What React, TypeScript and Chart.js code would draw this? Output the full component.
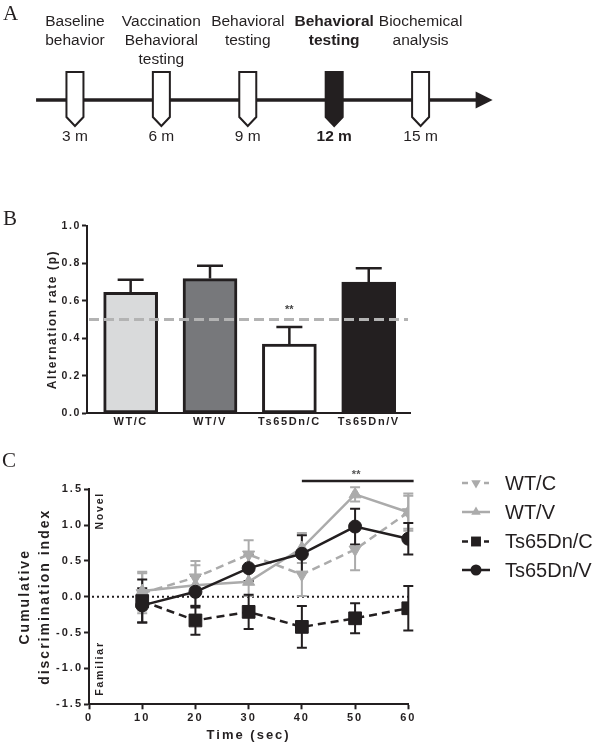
import React, { useEffect, useRef } from 'react';
import { Chart, registerables } from 'chart.js';

Chart.register(...registerables);

const FONT = '"Liberation Sans", Arial, Helvetica, sans-serif';
const SERIF = '"Liberation Serif", "Times New Roman", serif';
const INK = '#231f20';
const GRAY = '#ababab';

// ---------- Panel A: timeline ----------
const TIMELINE_MONTHS = [3, 6, 9, 12, 15];
const TIMELINE_MONTH_LABELS = ['3 m', '6 m', '9 m', '12 m', '15 m'];
const TIMELINE_EVENTS = [
  ['Baseline', 'behavior'],
  ['Vaccination', 'Behavioral', 'testing'],
  ['Behavioral', 'testing'],
  ['Behavioral', 'testing'],
  ['Biochemical', 'analysis'],
];
const TIMELINE_HIGHLIGHT = [false, false, false, true, false];
const TIMELINE_RANGE = [1.65, 17.5];

// ---------- Panel B: alternation rate ----------
const GROUPS = ['WT/C', 'WT/V', 'Ts65Dn/C', 'Ts65Dn/V'];
const ALTERNATION = [0.645, 0.718, 0.369, 0.7];
const ALTERNATION_SEM = [0.067, 0.069, 0.091, 0.073];
const BAR_COLORS = ['#d9dadb', '#77787b', '#ffffff', '#231f20'];
const ALT_TICKS = [0, 0.2, 0.4, 0.6, 0.8, 1.0];
const CHANCE_LEVEL = 0.5;
const ALT_SIGNIF_GROUP = 2;

// ---------- Panel C: cumulative discrimination index ----------
const TIME_SEC = [10, 20, 30, 40, 50, 60];
const TIME_TICKS = [0, 10, 20, 30, 40, 50, 60];
const DI_TICKS = [-1.5, -1.0, -0.5, 0, 0.5, 1.0, 1.5];
const DI_WT_C = [0.05, 0.27, 0.59, 0.31, 0.66, 1.18];
const SEM_WT_C = [0.28, 0.23, 0.2, 0.3, 0.29, 0.26];
const DI_WT_V = [0.08, 0.16, 0.21, 0.68, 1.43, 1.18];
const SEM_WT_V = [0.27, 0.28, 0.2, 0.21, 0.1, 0.23];
const DI_TS_C = [-0.06, -0.33, -0.21, -0.42, -0.3, -0.16];
const SEM_TS_C = [0.3, 0.2, 0.24, 0.29, 0.21, 0.31];
const DI_TS_V = [-0.12, 0.07, 0.4, 0.6, 0.98, 0.81];
const SEM_TS_V = [0.24, 0.22, 0.18, 0.26, 0.25, 0.22];
const SIG_RANGE = [40, 61];
const REGION_LABELS = ['Novel', 'Familiar'];
const REGION_VALUES = [1.2, -1.0];

const SERIES = [
  { label: 'WT/C', values: DI_WT_C, sem: SEM_WT_C, color: GRAY, dash: [8, 5], point: 'triangle', rotation: 180, radius: 7, order: 4 },
  { label: 'WT/V', values: DI_WT_V, sem: SEM_WT_V, color: GRAY, dash: [], point: 'triangle', rotation: 0, radius: 7, order: 3 },
  { label: 'Ts65Dn/C', values: DI_TS_C, sem: SEM_TS_C, color: INK, dash: [8, 5], point: 'rect', rotation: 0, radius: 9, order: 2 },
  { label: 'Ts65Dn/V', values: DI_TS_V, sem: SEM_TS_V, color: INK, dash: [], point: 'circle', rotation: 0, radius: 6.5, order: 1 },
];

function spacing(px: number) {
  return {
    id: 'letterSpacing',
    beforeDraw(chart: any) {
      chart.ctx.letterSpacing = px + 'px';
    },
    afterDraw(chart: any) {
      chart.ctx.letterSpacing = '0px';
    },
  };
}

function panelLetter(letter: string, x: number, baseline: number) {
  return {
    id: 'panelLetter',
    afterDraw(chart: any) {
      const ctx = chart.ctx;
      ctx.save();
      ctx.letterSpacing = '0px';
      ctx.font = `21px ${SERIF}`;
      ctx.fillStyle = INK;
      ctx.textAlign = 'left';
      ctx.textBaseline = 'alphabetic';
      ctx.fillText(letter, x, baseline);
      ctx.restore();
    },
  };
}

function makeTimeline(canvas: HTMLCanvasElement) {
  const timelinePlugin = {
    id: 'timeline',
    afterDatasetsDraw(chart: any) {
      const { ctx } = chart;
      const xs = chart.scales.x;
      const ys = chart.scales.y;
      const y0 = ys.getPixelForValue(0);
      const top = ys.getPixelForValue(1);
      ctx.save();
      ctx.strokeStyle = INK;
      ctx.fillStyle = INK;
      const xStart = xs.getPixelForValue(TIMELINE_RANGE[0]);
      const xEnd = xs.getPixelForValue(TIMELINE_RANGE[1]);
      ctx.lineWidth = 3.5;
      ctx.beginPath();
      ctx.moveTo(xStart, y0);
      ctx.lineTo(xEnd - 12, y0);
      ctx.stroke();
      ctx.beginPath();
      ctx.moveTo(xEnd, y0);
      ctx.lineTo(xEnd - 17, y0 - 8.5);
      ctx.lineTo(xEnd - 17, y0 + 8.5);
      ctx.closePath();
      ctx.fill();

      const meta = chart.getDatasetMeta(0);
      meta.data.forEach((pt: any, i: number) => {
        const x = pt.x;
        const hw = 8.5;
        const shoulder = y0 + 17;
        const tip = y0 + 26;
        ctx.beginPath();
        ctx.moveTo(x - hw, top);
        ctx.lineTo(x + hw, top);
        ctx.lineTo(x + hw, shoulder);
        ctx.lineTo(x, tip);
        ctx.lineTo(x - hw, shoulder);
        ctx.closePath();
        ctx.fillStyle = TIMELINE_HIGHLIGHT[i] ? INK : '#ffffff';
        ctx.fill();
        ctx.lineWidth = 2;
        ctx.strokeStyle = INK;
        ctx.stroke();

        const weight = TIMELINE_HIGHLIGHT[i] ? 'bold ' : '';
        ctx.font = `${weight}15.5px ${FONT}`;
        ctx.fillStyle = INK;
        ctx.textAlign = 'center';
        ctx.textBaseline = 'middle';
        TIMELINE_EVENTS[i].forEach((line, k) => {
          ctx.fillText(line, x, 22 + k * 19);
        });
        ctx.fillText(TIMELINE_MONTH_LABELS[i], x, 137);
      });
      ctx.restore();
    },
  };

  return new Chart(canvas, {
    type: 'scatter',
    data: {
      datasets: [
        {
          data: TIMELINE_MONTHS.map((m) => ({ x: m, y: 0 })),
          pointRadius: 0,
        },
      ],
    },
    options: {
      animation: false,
      responsive: false,
      events: [],
      layout: { padding: { left: 31.75, right: 93, top: 72, bottom: 42 } },
      plugins: { legend: { display: false }, tooltip: { enabled: false } },
      scales: {
        x: { type: 'linear', display: false, min: 1.5, max: 18 },
        y: { type: 'linear', display: false, min: -1, max: 1 },
      },
    } as any,
    plugins: [timelinePlugin, panelLetter('A', 3, 19.5)],
  });
}

function makeBars(canvas: HTMLCanvasElement) {
  const extras = {
    id: 'barExtras',
    afterDatasetsDraw(chart: any) {
      const { ctx, chartArea } = chart;
      const ys = chart.scales.y;
      const meta = chart.getDatasetMeta(0);
      ctx.save();
      ctx.letterSpacing = '0px';
      ctx.strokeStyle = INK;
      ctx.lineWidth = 2.5;
      meta.data.forEach((bar: any, i: number) => {
        const t = ys.getPixelForValue(ALTERNATION[i]);
        const e = ys.getPixelForValue(ALTERNATION[i] + ALTERNATION_SEM[i]);
        ctx.beginPath();
        ctx.moveTo(bar.x, t);
        ctx.lineTo(bar.x, e);
        ctx.moveTo(bar.x - 13, e);
        ctx.lineTo(bar.x + 13, e);
        ctx.stroke();
      });
      const yc = ys.getPixelForValue(CHANCE_LEVEL);
      ctx.strokeStyle = '#b3b3b3';
      ctx.lineWidth = 3;
      ctx.setLineDash([10, 5]);
      ctx.beginPath();
      ctx.moveTo(chartArea.left + 2, yc);
      ctx.lineTo(chartArea.right - 2, yc);
      ctx.stroke();
      ctx.setLineDash([]);
      const sb = meta.data[ALT_SIGNIF_GROUP];
      const se = ys.getPixelForValue(ALTERNATION[ALT_SIGNIF_GROUP] + ALTERNATION_SEM[ALT_SIGNIF_GROUP]);
      ctx.fillStyle = '#444444';
      ctx.font = `bold 11px ${FONT}`;
      ctx.textAlign = 'center';
      ctx.textBaseline = 'middle';
      ctx.fillText('**', sb.x, se - 17);
      ctx.restore();
    },
  };

  const tickFont = { family: FONT, size: 10.5, weight: 'bold' };
  return new Chart(canvas, {
    type: 'bar',
    data: {
      datasets: [
        {
          data: GROUPS.map((g, i) => ({ x: i + 1, y: ALTERNATION[i] })),
          backgroundColor: BAR_COLORS,
          borderColor: INK,
          borderWidth: 3,
          borderSkipped: false,
          barThickness: 54,
        },
      ],
    },
    options: {
      animation: false,
      responsive: false,
      events: [],
      layout: { padding: { left: 0, right: 190, top: 25.7, bottom: 6.7 } },
      plugins: { legend: { display: false }, tooltip: { enabled: false } },
      scales: {
        x: {
          type: 'linear',
          min: 0.45,
          max: 4.52,
          offset: false,
          afterBuildTicks: (s: any) => {
            s.ticks = GROUPS.map((_, i) => ({ value: i + 1 }));
          },
          afterFit: (s: any) => {
            s.height = 20;
          },
          grid: { drawOnChartArea: false, drawTicks: false, offset: false },
          border: { color: INK, width: 2 },
          ticks: {
            callback: (v: any) => GROUPS[Math.round(v) - 1],
            font: { ...tickFont, size: 11 },
            color: INK,
            padding: 2,
            maxRotation: 0,
            autoSkip: false,
          },
        },
        y: {
          type: 'linear',
          min: 0,
          max: 1,
          afterBuildTicks: (s: any) => {
            s.ticks = ALT_TICKS.map((v) => ({ value: v }));
          },
          afterFit: (s: any) => {
            s.width = 87;
          },
          grid: { drawOnChartArea: false, tickLength: 5, tickWidth: 2, tickColor: INK, color: INK },
          border: { color: INK, width: 2 },
          ticks: {
            callback: (v: any) => Number(v).toFixed(1),
            font: tickFont,
            color: INK,
            padding: 1,
          },
          title: {
            display: true,
            text: 'Alternation rate (p)',
            font: { family: FONT, size: 12, weight: 'bold' },
            color: INK,
            padding: { top: 45.8, bottom: 0 },
          },
        },
      },
    } as any,
    plugins: [spacing(1.6), extras, panelLetter('B', 3, 25)],
  });
}

function drawMarker(ctx: any, style: string, x: number, y: number, r: number, rotation: number) {
  ctx.beginPath();
  if (style === 'circle') {
    ctx.arc(x, y, r, 0, Math.PI * 2);
  } else if (style === 'rect') {
    const s = r * Math.SQRT1_2;
    ctx.rect(x - s, y - s, 2 * s, 2 * s);
  } else {
    const d = rotation === 180 ? -1 : 1;
    ctx.moveTo(x, y - d * r);
    ctx.lineTo(x + r * 0.866, y + d * r * 0.5);
    ctx.lineTo(x - r * 0.866, y + d * r * 0.5);
    ctx.closePath();
  }
  ctx.fill();
}

function makeLines(canvas: HTMLCanvasElement) {
  const under = {
    id: 'lineUnder',
    beforeDatasetsDraw(chart: any) {
      const { ctx, chartArea } = chart;
      const xs = chart.scales.x;
      const ys = chart.scales.y;
      ctx.save();
      ctx.letterSpacing = '0px';
      const y0 = ys.getPixelForValue(0);
      ctx.strokeStyle = INK;
      ctx.lineWidth = 2;
      ctx.setLineDash([2, 3]);
      ctx.beginPath();
      ctx.moveTo(chartArea.left + 3, y0);
      ctx.lineTo(chartArea.right, y0);
      ctx.stroke();
      ctx.setLineDash([]);
      [...SERIES]
        .sort((a, b) => b.order - a.order)
        .forEach((s) => {
          ctx.strokeStyle = s.color;
          ctx.lineWidth = 2;
          TIME_SEC.forEach((t, i) => {
            const px = xs.getPixelForValue(t);
            const hi = ys.getPixelForValue(s.values[i] + s.sem[i]);
            const lo = ys.getPixelForValue(s.values[i] - s.sem[i]);
            ctx.beginPath();
            ctx.moveTo(px, hi);
            ctx.lineTo(px, lo);
            ctx.moveTo(px - 5, hi);
            ctx.lineTo(px + 5, hi);
            ctx.moveTo(px - 5, lo);
            ctx.lineTo(px + 5, lo);
            ctx.stroke();
          });
        });
      ctx.restore();
    },
  };

  const over = {
    id: 'lineOver',
    afterDraw(chart: any) {
      const { ctx } = chart;
      const xs = chart.scales.x;
      const ys = chart.scales.y;
      ctx.save();
      // significance bar
      ctx.letterSpacing = '0px';
      ctx.strokeStyle = INK;
      ctx.lineWidth = 2.5;
      ctx.beginPath();
      ctx.moveTo(xs.getPixelForValue(SIG_RANGE[0]), 41);
      ctx.lineTo(xs.getPixelForValue(SIG_RANGE[1]), 41);
      ctx.stroke();
      ctx.fillStyle = '#555555';
      ctx.font = `bold 11px ${FONT}`;
      ctx.textAlign = 'center';
      ctx.textBaseline = 'middle';
      ctx.fillText('**', xs.getPixelForValue((SIG_RANGE[0] + SIG_RANGE[1]) / 2 - 0.3), 35);

      // Novel / Familiar
      ctx.fillStyle = INK;
      ctx.font = `bold 10.5px ${FONT}`;
      ctx.letterSpacing = '1.8px';
      REGION_LABELS.forEach((txt, i) => {
        ctx.save();
        ctx.translate(xs.left + 11, ys.getPixelForValue(REGION_VALUES[i]));
        ctx.rotate(-Math.PI / 2);
        ctx.textAlign = 'center';
        ctx.textBaseline = 'middle';
        ctx.fillText(txt, 0, 0);
        ctx.restore();
      });

      // legend
      ctx.letterSpacing = '0px';
      const rows = [43, 72, 101.5, 130];
      SERIES.forEach((s, i) => {
        const y = rows[i];
        ctx.strokeStyle = s.color;
        ctx.fillStyle = s.color;
        ctx.lineWidth = 2.5;
        ctx.beginPath();
        if (s.dash.length) {
          ctx.moveTo(462, y);
          ctx.lineTo(468, y);
          ctx.moveTo(484, y);
          ctx.lineTo(489, y);
        } else {
          ctx.moveTo(462, y);
          ctx.lineTo(490, y);
        }
        ctx.stroke();
        drawMarker(ctx, s.point, 476, y, s.point === 'rect' ? 7 : 5.5, s.rotation);
        ctx.fillStyle = INK;
        ctx.font = `20px ${FONT}`;
        ctx.textAlign = 'left';
        ctx.textBaseline = 'middle';
        ctx.fillText(s.label, 505, y + 1);
      });
      ctx.restore();
    },
  };

  const tickFont = { family: FONT, size: 11, weight: 'bold' };
  return new Chart(canvas, {
    type: 'line',
    data: {
      datasets: SERIES.map((s) => ({
        label: s.label,
        data: TIME_SEC.map((t, i) => ({ x: t, y: s.values[i] })),
        borderColor: s.color,
        backgroundColor: s.color,
        borderWidth: 2.5,
        borderDash: s.dash,
        pointStyle: s.point,
        pointRotation: s.rotation,
        pointRadius: s.radius,
        pointBorderWidth: 1,
        pointBorderColor: s.color,
        pointBackgroundColor: s.color,
        order: s.order,
        tension: 0,
      })),
    },
    options: {
      animation: false,
      responsive: false,
      events: [],
      layout: { padding: { left: 0, right: 191.7, top: 49.3, bottom: 2.7 } },
      plugins: { legend: { display: false }, tooltip: { enabled: false } },
      scales: {
        x: {
          type: 'linear',
          min: 0,
          max: 60,
          afterBuildTicks: (s: any) => {
            s.ticks = TIME_TICKS.map((v) => ({ value: v }));
          },
          afterFit: (s: any) => {
            s.height = 45;
          },
          grid: { drawOnChartArea: false, tickLength: 5, tickWidth: 2, tickColor: INK, color: INK },
          border: { color: INK, width: 2 },
          ticks: { font: tickFont, color: INK, padding: 2, maxRotation: 0, autoSkip: false },
          title: {
            display: true,
            text: 'Time (sec)',
            font: { family: FONT, size: 13, weight: 'bold' },
            color: INK,
            padding: { top: 0, bottom: 6.5 },
          },
        },
        y: {
          type: 'linear',
          min: -1.5,
          max: 1.5,
          afterBuildTicks: (s: any) => {
            s.ticks = DI_TICKS.map((v) => ({ value: v }));
          },
          afterFit: (s: any) => {
            s.width = 89;
          },
          grid: { drawOnChartArea: false, tickLength: 5, tickWidth: 2, tickColor: INK, color: INK },
          border: { color: INK, width: 2 },
          ticks: {
            callback: (v: any) => Number(v).toFixed(1),
            font: tickFont,
            color: INK,
            padding: 1,
          },
          title: {
            display: true,
            text: ['Cumulative', 'discrimination index'],
            font: { family: FONT, size: 14, weight: 'bold', lineHeight: 20 / 14 },
            color: INK,
            padding: { top: 15, bottom: 0 },
          },
        },
      },
    } as any,
    plugins: [spacing(2), under, over, panelLetter('C', 2, 26.5)],
  });
}

export default function App() {
  const aRef = useRef<HTMLCanvasElement>(null);
  const bRef = useRef<HTMLCanvasElement>(null);
  const cRef = useRef<HTMLCanvasElement>(null);

  useEffect(() => {
    const charts = [
      makeTimeline(aRef.current as HTMLCanvasElement),
      makeBars(bRef.current as HTMLCanvasElement),
      makeLines(cRef.current as HTMLCanvasElement),
    ];
    return () => charts.forEach((c) => c.destroy());
  }, []);

  return (
    <div style={{ position: 'absolute', left: 0, top: 0, width: 600, height: 752, background: '#ffffff' }}>
      <canvas ref={aRef} width={600} height={170} style={{ position: 'absolute', left: 0, top: 0 }} />
      <canvas ref={bRef} width={600} height={240} style={{ position: 'absolute', left: 0, top: 200 }} />
      <canvas ref={cRef} width={600} height={312} style={{ position: 'absolute', left: 0, top: 440 }} />
    </div>
  );
}
